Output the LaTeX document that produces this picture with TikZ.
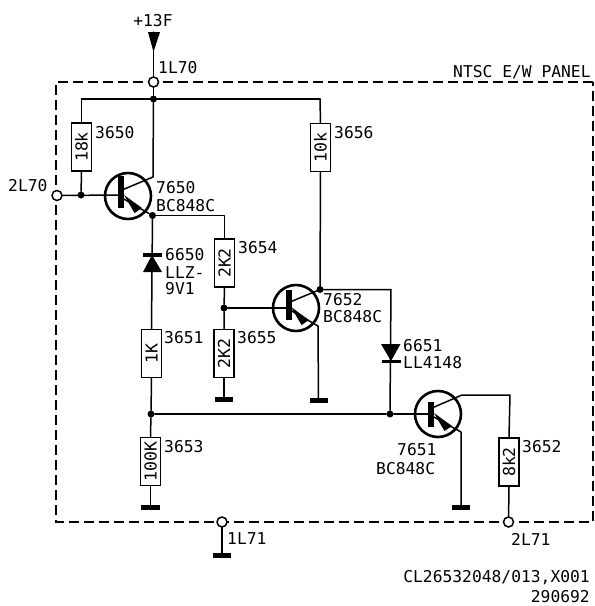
\documentclass[tikz,border=0pt]{standalone}
\usepackage{fontspec}
\setmainfont{DejaVu Sans Mono}
\usetikzlibrary{calc}
\tikzset{
  wire/.style={line width=1.5pt,line cap=round,line join=round},
  res/.style={draw,line width=1.6pt,rotate=90,minimum width=48pt,minimum height=20pt,inner sep=0pt,fill=white,font=\fontsize{16.5}{17}\selectfont},
  lab/.style={anchor=west,inner sep=0pt,align=left,font=\fontsize{16.3}{16.5}\selectfont},
  term/.style={circle,draw,line width=1.5pt,fill=white,minimum size=10pt,inner sep=0pt},
  jun/.style={circle,fill=black,minimum size=7pt,inner sep=0pt},
  trans/.style={circle,draw,line width=2.6pt,minimum size=46pt,inner sep=0pt},
  bar/.style={line width=5.5pt},
  gnd/.style={line width=5pt},
  frame/.style={line width=1.4pt,dash pattern=on 10pt off 5pt}
}
\begin{document}
\begin{tikzpicture}[x=1pt,y=-1pt]
\useasboundingbox (0,0) rectangle (595,606);
% frame
\draw[frame] (593,82) -- (56,82) -- (56,522) -- (593,522) -- cycle;
% supply
\coordinate (sup) at (153.5,32);
\node[term] (t1L70) at (153.5,82) {};
\node[jun] (jtop) at (153.5,99) {};
\coordinate (ctl) at (81.5,99);
\coordinate (ctr) at (320,99);
\fill (148,32) -- (160,32) -- (153.5,52) -- cycle;
\draw[wire] (sup) -- (t1L70);
\draw[wire] (t1L70) -- (jtop);
\draw[wire] (ctl) -- (ctr);
% R3650
\node[res] (r3650) at (81.5,147) {18k};
\node[jun] (jb1) at (81,195) {};
\node[term] (t2L70) at (57,195.500) {};
\draw[wire] (ctl) -- (r3650.east);
\draw[wire] (r3650.west) -- (jb1);
% T7650
\node[trans] (q1) at (128,196) {};
\draw[bar] (121,176) -- (121,208);
\draw[wire] (t2L70) -- (121,195);
\coordinate (c1) at (153,177);
\node[jun] (e1) at (152.500,215.500) {};
\draw[wire] (jtop) -- (c1) -- (122,190);
\draw[wire] (122,198) -- (e1);
\fill (124,195) -- (142,208) -- (134.500,213) -- cycle;
% R3654
\coordinate (c3654) at (224.500,215.500);
\node[res] (r3654) at (224.500,263) {2K2};
\draw[wire] (e1) -- (c3654) -- (r3654.east);
% zener
\node[res] (r3651) at (151.500,353.500) {1K};
\draw[wire] (e1) -- (r3651.east);
\fill (152,255) -- (143,272) -- (162,272) -- cycle;
\draw[line width=3.5pt] (143,255) -- (162,255);
% junction below
\node[jun] (j7652) at (224,308) {};
\node[res] (r3655) at (224,353.500) {2K2};
\draw[wire] (r3654.west) -- (j7652) -- (r3655.east);
\coordinate (g3655) at (224,399);
\draw[wire] (r3655.west) -- (g3655);
\draw[gnd] (214.500,399) -- (232.500,399);
% T7652
\node[trans] (q2) at (296,308) {};
\draw[bar] (289,290) -- (289,320);
\draw[wire] (j7652) -- (289,308);
\node[jun] (c2) at (320,289.500) {};
\node[res] (r3656) at (320.500,147.500) {10k};
\draw[wire] (ctr) -- (r3656.east);
\draw[wire] (r3656.west) -- (c2);
\draw[wire] (c2) -- (290,302);
\coordinate (e2) at (318,326);
\draw[wire] (290,310) -- (e2);
\fill (291,307) -- (309,320) -- (301.500,325) -- cycle;
\coordinate (g2) at (318.500,400);
\draw[wire] (e2) -- (g2);
\draw[gnd] (310,400) -- (328,400);
% diode
\coordinate (cd) at (391,289.500);
\node[jun] (b3) at (390,414) {};
\draw[wire] (c2) -- (cd) -- (b3);
\fill (381,344) -- (400.500,344) -- (391,361) -- cycle;
\draw[line width=3.5pt] (381.500,361.500) -- (400.500,361.500);
% main node
\node[jun] (jm) at (151,414) {};
\draw[wire] (r3651.west) -- (jm);
\draw[wire] (jm) -- (b3) -- (431,414);
% R3653
\node[res] (r3653) at (150.500,461.500) {100K};
\coordinate (g3) at (150.500,507.500);
\draw[wire] (jm) -- (r3653.east);
\draw[wire] (r3653.west) -- (g3);
\draw[gnd] (141,507.500) -- (159.500,507.500);
% T7651
\node[trans] (q3) at (438,414) {};
\draw[bar] (431,402) -- (431,427);
\coordinate (c3) at (462,395);
\coordinate (c3r) at (510,395);
\node[res] (r3652) at (509,462) {8k2};
\node[term] (t2L71) at (508.500,522) {};
\draw[wire] (432,408) -- (c3) -- (c3r) -- (r3652.east);
\draw[wire] (r3652.west) -- (t2L71);
\coordinate (e3) at (461,432);
\coordinate (g4) at (461,507.500);
\draw[wire] (432,416) -- (e3) -- (g4);
\fill (434,413) -- (452,426) -- (444.500,431) -- cycle;
\draw[gnd] (452,507.500) -- (470,507.500);
% 1L71
\node[term] (t1L71) at (222,522) {};
\coordinate (g5) at (222,555.500);
\draw[wire] (t1L71) -- (g5);
\draw[gnd] (213,555.500) -- (231,555.500);
% labels
\node[lab,anchor=center] (l13) at (153,21) {+13F};
\node[lab] (l1L70) at (158,67.500) {1L70};
\node[lab] (lpanel) at (453,72) {NTSC E/W PANEL};
\node[lab] (l3650) at (95,133) {3650};
\node[lab] (l3656) at (334,133) {3656};
\node[lab] (l2L70) at (8,186) {2L70};
\node[lab] (l7650) at (156,188) {7650};
\node[lab] (lb1) at (156,205.500) {BC848C};
\node[lab] (l3654) at (238,248) {3654};
\node[lab] (l6650) at (165,255) {6650};
\node[lab] (llz) at (165,273) {LLZ-};
\node[lab] (l9v1) at (165,288.500) {9V1};
\node[lab] (l7652) at (323,300) {7652};
\node[lab] (lb2) at (323,317) {BC848C};
\node[lab] (l3651) at (164,338) {3651};
\node[lab] (l3655) at (237,338) {3655};
\node[lab] (l6651) at (403,346) {6651};
\node[lab] (l4148) at (403,363) {LL4148};
\node[lab] (l3653) at (164,447) {3653};
\node[lab] (l7651) at (397,450) {7651};
\node[lab] (lb3) at (376,469) {BC848C};
\node[lab] (l3652) at (522,447) {3652};
\node[lab] (l1L71) at (227,539) {1L71};
\node[lab] (l2L71) at (511,539) {2L71};
\node[lab,anchor=east] (lcl) at (590,578) {CL26532048/013,X001};
\node[lab,anchor=east] (ldate) at (590,597) {290692};
\end{tikzpicture}
\end{document}
